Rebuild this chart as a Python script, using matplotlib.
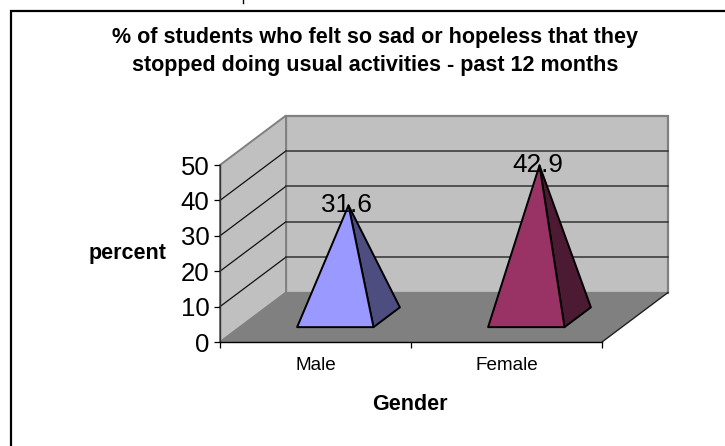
import matplotlib
matplotlib.use("Agg")
import matplotlib.pyplot as plt
from matplotlib.patches import Polygon
from matplotlib.lines import Line2D

plt.rcParams['font.family'] = ['Liberation Sans', 'DejaVu Sans']

categories = ["Male", "Female"]
values = [31.6, 42.9]
yticks = [0, 10, 20, 30, 40, 50]
title_lines = ["% of students who felt so sad or hopeless that they",
               "stopped doing usual activities - past 12 months"]
front_colors = ["#9999FF", "#993366"]
side_colors = ["#4D4D80", "#4D1A33"]

W, H = 725, 446
fig = plt.figure(figsize=(W / 100, H / 100), dpi=100, facecolor="white")
ax = fig.add_axes([220 / W, (H - 342) / H, 382 / W, 177 / H])
ax.set_xlim(0, 2)
ax.set_ylim(0, 50)
ax.patch.set_visible(False)

DX = 66 / 191      # depth shear in x units
DY = 49.5 / 3.54   # depth shear in value units


def P(x, y, d=0.0):
    return (x + d * DX, y + d * DY)


def poly(pts, **kw):
    kw.setdefault("clip_on", False)
    ax.add_patch(Polygon(pts, closed=True, **kw))


# walls and floor
poly([P(0, 0, 1), P(2, 0, 1), P(2, 50, 1), P(0, 50, 1)], fc="#C0C0C0", ec="#808080", lw=1.6, zorder=1)
poly([P(0, 0), P(0, 0, 1), P(0, 50, 1), P(0, 50)], fc="#C0C0C0", ec="#808080", lw=1.4, zorder=1)
poly([P(0, 0), P(2, 0), P(2, 0, 1), P(0, 0, 1)], fc="#808080", ec="none", zorder=2)
ax.add_line(Line2D(*zip(P(2, 0), P(2, 0, 1)), color="#202020", lw=1.0, clip_on=False, zorder=3))

# gridlines
for t in yticks[1:-1]:
    ax.add_line(Line2D(*zip(P(0, t), P(0, t, 1)), color="#111111", lw=0.9, clip_on=False, zorder=3))
    ax.add_line(Line2D(*zip(P(0, t, 1), P(2, t, 1)), color="#333333", lw=1.1, clip_on=False, zorder=3))

# pyramids
hw, d0, d1 = 0.2, 0.3, 0.7
for i, (v, fc, sc) in enumerate(zip(values, front_colors, side_colors)):
    c = i + 0.5
    apex = P(c, v, 0.5)
    poly([P(c + hw, 0, d0), P(c + hw, 0, d1), apex], fc=sc, ec="black", lw=1.4, joinstyle="round", zorder=4)
    poly([P(c - hw, 0, d0), P(c + hw, 0, d0), apex], fc=fc, ec="black", lw=1.4, joinstyle="round", zorder=5)
    ax.annotate(f"{v}", xy=apex, xytext=(-2, 0), textcoords="offset pixels", ha="center", va="center",
                fontsize=18.8, color="black", annotation_clip=False, zorder=6)

# axes
for s in ("top", "right"):
    ax.spines[s].set_visible(False)
ax.spines["left"].set_linewidth(1.0)
ax.spines["bottom"].set_linewidth(1.0)
ax.spines["left"].set_color("#333333")
ax.spines["left"].set_zorder(7)
ax.spines["bottom"].set_zorder(7)
ax.set_yticks(yticks)
ax.tick_params(axis="y", labelsize=18.5, length=4.5, width=0.9, pad=3)
ax.set_xticks([0, 1, 2])
ax.set_xticklabels([])
ax.set_xticks([0.5, 1.5], minor=True)
ax.set_xticklabels(categories, minor=True)
ax.tick_params(axis="x", which="major", length=4.5, width=0.9)
ax.tick_params(axis="x", which="minor", length=0, labelsize=13.6, pad=11)

# texts
for line, y in zip(title_lines, [37, 65]):
    fig.text(375 / W, 1 - y / H, line, ha="center", va="center", fontsize=15.5, fontweight="bold")
fig.text(128 / W, 1 - 253 / H, "percent", ha="center", va="center", fontsize=15.5, fontweight="bold")
fig.text(410 / W, 1 - 405 / H, "Gender", ha="center", va="center", fontsize=15.5, fontweight="bold")

# outer frame
fig.add_artist(Line2D([11 / W, 11 / W, 1], [0, 1 - 11 / H, 1 - 11 / H], color="black", lw=1.6,
                      transform=fig.transFigure, solid_joinstyle="miter"))
fig.add_artist(Line2D([243 / W, 243 / W], [1, 1 - 3 / H], color="black", lw=1.0, transform=fig.transFigure))

fig.savefig("out.png", dpi=100, facecolor="white")
